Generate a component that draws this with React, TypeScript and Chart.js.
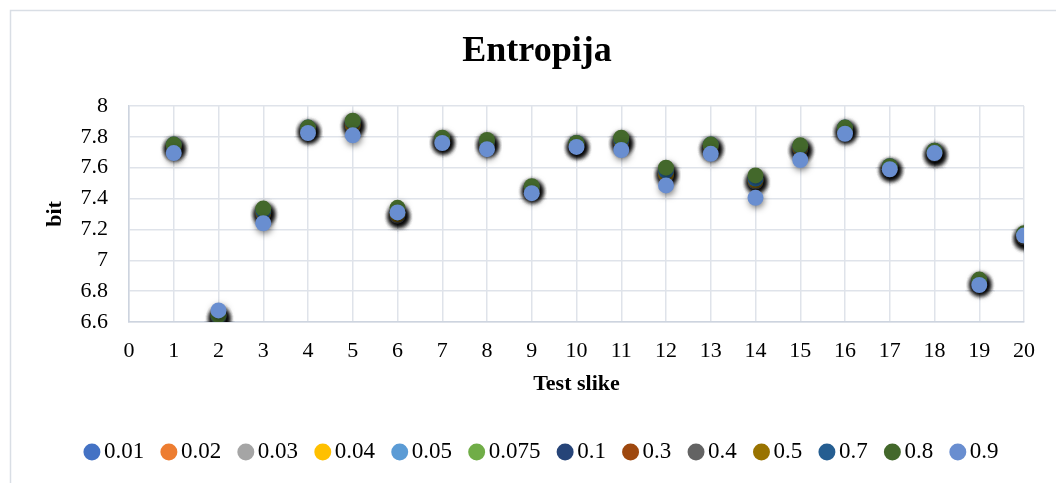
import React, { useEffect, useRef } from "react";
import { Chart, registerables } from "chart.js";

Chart.register(...registerables);

// ---------- data ----------
const testImages = [1, 2, 3, 4, 5, 6, 7, 8, 9, 10, 11, 12, 13, 14, 15, 16, 17, 18, 19, 20];

const seriesLabels = ["0.01", "0.02", "0.03", "0.04", "0.05", "0.075", "0.1", "0.3", "0.4", "0.5", "0.7", "0.8", "0.9"];

const seriesColors = [
  "#4472C4", "#ED7D31", "#A5A5A5", "#FFC000", "#5B9BD5", "#70AD47",
  "#264478", "#9E480E", "#636363", "#997300", "#255E91", "#43682B", "#698ED0",
];

const s001 = [7.74, 6.64, 7.32, 7.85, 7.89, 7.31, 7.78, 7.77, 7.47, 7.75, 7.78, 7.58, 7.74, 7.53, 7.73, 7.85, 7.60, 7.70, 6.86, 7.16];
const s002 = [7.74, 6.64, 7.31, 7.85, 7.88, 7.30, 7.78, 7.76, 7.46, 7.75, 7.77, 7.57, 7.73, 7.52, 7.72, 7.84, 7.60, 7.70, 6.86, 7.15];
const s003 = [7.73, 6.63, 7.31, 7.84, 7.88, 7.30, 7.77, 7.76, 7.46, 7.74, 7.77, 7.57, 7.73, 7.52, 7.72, 7.84, 7.60, 7.70, 6.85, 7.15];
const s004 = [7.74, 6.64, 7.32, 7.85, 7.89, 7.30, 7.78, 7.76, 7.47, 7.75, 7.78, 7.57, 7.74, 7.52, 7.73, 7.85, 7.60, 7.70, 6.86, 7.16];
const s005 = [7.73, 6.63, 7.31, 7.84, 7.88, 7.29, 7.77, 7.75, 7.46, 7.74, 7.76, 7.56, 7.73, 7.51, 7.72, 7.84, 7.59, 7.69, 6.85, 7.15];
const s0075 = [7.74, 6.64, 7.32, 7.85, 7.89, 7.30, 7.78, 7.77, 7.47, 7.75, 7.78, 7.58, 7.74, 7.53, 7.73, 7.85, 7.60, 7.70, 6.86, 7.16];
const s01 = [7.73, 6.63, 7.30, 7.84, 7.88, 7.29, 7.77, 7.76, 7.46, 7.74, 7.77, 7.56, 7.73, 7.52, 7.72, 7.84, 7.60, 7.69, 6.85, 7.15];
const s03 = [7.74, 6.64, 7.31, 7.85, 7.88, 7.30, 7.78, 7.76, 7.46, 7.75, 7.77, 7.57, 7.74, 7.52, 7.73, 7.85, 7.60, 7.70, 6.86, 7.15];
const s04 = [7.73, 6.63, 7.30, 7.84, 7.87, 7.29, 7.77, 7.75, 7.45, 7.74, 7.76, 7.55, 7.73, 7.51, 7.72, 7.84, 7.59, 7.69, 6.85, 7.15];
const s05 = [7.74, 6.64, 7.31, 7.85, 7.88, 7.30, 7.78, 7.76, 7.46, 7.75, 7.77, 7.56, 7.74, 7.52, 7.73, 7.85, 7.60, 7.70, 6.86, 7.16];
const s07 = [7.75, 6.64, 7.32, 7.86, 7.90, 7.31, 7.79, 7.77, 7.47, 7.76, 7.78, 7.58, 7.75, 7.53, 7.74, 7.86, 7.61, 7.71, 6.87, 7.17];
const s08 = [7.75, 6.645, 7.335, 7.86, 7.905, 7.34, 7.795, 7.78, 7.48, 7.76, 7.795, 7.60, 7.75, 7.55, 7.745, 7.86, 7.61, 7.71, 6.875, 7.175];
const s09 = [7.695, 6.675, 7.24, 7.825, 7.81, 7.31, 7.76, 7.72, 7.435, 7.735, 7.715, 7.485, 7.69, 7.405, 7.65, 7.82, 7.59, 7.695, 6.84, 7.16];

const seriesValues = [s001, s002, s003, s004, s005, s0075, s01, s03, s04, s05, s07, s08, s09];

const chartTitle = "Entropija";
const xTitle = "Test slike";
const yTitle = "bit";

const FONT = '"Liberation Serif", "Times New Roman", Times, serif';

export default function App() {
  const ref = useRef<HTMLCanvasElement>(null);

  useEffect(() => {
    if (!ref.current) return;

    const n = seriesLabels.length;
    const datasets = seriesLabels.map((label, i) => ({
      label,
      data: testImages.map((x, j) => ({ x, y: seriesValues[i][j] })),
      backgroundColor: seriesColors[i],
      borderColor: seriesColors[i],
      borderWidth: 0,
      pointRadius: 8,
      pointHoverRadius: 8,
      pointStyle: "circle",
      order: n - i, // later series drawn on top, like Excel
    }));

    const shadowPlugin = {
      id: "markerShadow",
      beforeDatasetsDraw(chart: any) {
        const c = chart.ctx;
        c.save();
        c.shadowColor = "rgba(0,0,0,0.5)";
        c.shadowBlur = 6;
        c.shadowOffsetX = 1;
        c.shadowOffsetY = 2.5;
      },
      afterDatasetsDraw(chart: any) {
        chart.ctx.restore();
      },
    };

    const framePlugin = {
      id: "frame",
      beforeDraw(chart: any) {
        const c = chart.ctx;
        c.save();
        c.strokeStyle = "#d9dee5";
        c.lineWidth = 1.5;
        c.beginPath();
        c.moveTo(10.5, chart.height);
        c.lineTo(10.5, 10.5);
        c.lineTo(chart.width, 10.5);
        c.stroke();
        c.restore();
      },
    };

    const shiftPlugin = {
      id: "shiftBoxes",
      afterLayout(chart: any) {
        if (chart.titleBlock) {
          chart.titleBlock.left += 25;
          chart.titleBlock.right += 25;
        }
        if (chart.legend) {
          chart.legend.left += 33;
          chart.legend.right += 33;
        }
      },
    };

    const gridColor = "#dfe3ea";
    const axisColor = "#cdd4df";

    const chart = new Chart(ref.current, {
      type: "scatter",
      data: { datasets },
      options: {
        animation: false,
        responsive: false,
        maintainAspectRatio: false,
        layout: { padding: { left: 0, right: 32, top: 0, bottom: 9.5 } },
        scales: {
          x: {
            type: "linear",
            min: 0,
            max: 20,
            ticks: {
              stepSize: 1,
              color: "#000",
              font: { family: FONT, size: 22 },
              padding: 16.3,
            },
            grid: { color: gridColor, lineWidth: 1.5, drawTicks: false },
            border: { color: axisColor, width: 1.5 },
            title: {
              display: true,
              text: xTitle,
              color: "#000",
              font: { family: FONT, size: 22, weight: "bold" },
              padding: { top: 0, bottom: 18.3 },
            },
            afterFit: (s: any) => {
              s.height = 94.3;
            },
          },
          y: {
            type: "linear",
            min: 6.6,
            max: 8,
            ticks: {
              stepSize: 0.2,
              color: "#000",
              font: { family: FONT, size: 22 },
              padding: 21,
              callback: (v: any) => Number(v).toFixed(1).replace(/\.0$/, ""),
            },
            grid: { color: gridColor, lineWidth: 1.5, drawTicks: false },
            border: { color: axisColor, width: 1.5 },
            title: {
              display: true,
              text: yTitle,
              color: "#000",
              font: { family: FONT, size: 22, weight: "bold" },
              padding: { top: 42.3, bottom: 0 },
            },
            afterFit: (s: any) => {
              s.width = 129;
            },
          },
        },
        plugins: {
          title: {
            display: true,
            text: chartTitle,
            color: "#000",
            font: { family: FONT, size: 36, weight: "bold" },
            padding: { top: 30.4, bottom: 32.4 },
          },
          legend: {
            position: "bottom",
            labels: {
              usePointStyle: true,
              pointStyle: "circle",
              boxWidth: 1,
              boxHeight: 12,
              padding: 24.2,
              color: "#000",
              font: { family: FONT, size: 23 },
              sort: (a: any, b: any) => a.datasetIndex - b.datasetIndex,
            },
          },
          tooltip: { enabled: false },
        },
      } as any,
      plugins: [framePlugin, shadowPlugin, shiftPlugin],
    });

    return () => chart.destroy();
  }, []);

  return (
    <div style={{ position: "fixed", left: 0, top: 0, width: 1056, height: 483, overflow: "hidden", background: "#fff" }}>
      <canvas ref={ref} width={1056} height={483} style={{ display: "block" }} />
    </div>
  );
}
